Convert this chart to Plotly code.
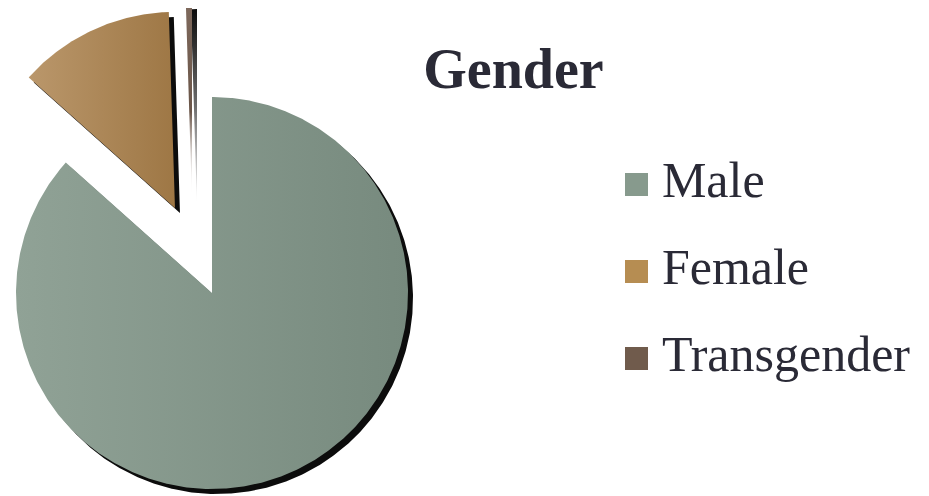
import numpy as np
import plotly.graph_objects as go

# ---------------- data ----------------
categories = ["Male", "Female", "Transgender"]
values = [86.6, 12.9, 0.5]
chart_title = "Gender"

# ---------------- style ----------------
FONT = "Liberation Serif, Times New Roman, serif"
TEXT_COLOR = "#2a2a36"
grad_light = ["#90a296", "#ba976b", "#7e695c"]
grad_dark = ["#778a7e", "#9e7745", "#6a5548"]
legend_colors = ["#879a8d", "#b68d52", "#705b4c"]
# exploded offsets of each slice's apex (in pie-radius units, y up)
explode = [(0.0, 0.0), (-0.189, 0.434), (-0.102, 0.474)]
W, H = 929, 496
PAGE_OFF = 8.0          # default page margin around the figure
R_PX = 196.0            # pie radius in pixels
CX, CY = 212.0 - PAGE_OFF, 293.0 - PAGE_OFF  # pie centre in figure pixels
SHADOW = (5 / R_PX, -5 / R_PX)

fig = go.Figure()

total = float(sum(values))
angles = np.cumsum([0.0] + [v / total * 360.0 for v in values])


def wedge(a0, a1, ox, oy):
    th = np.radians(np.linspace(a0, a1, max(8, int((a1 - a0) * 2) + 2)))
    xs = np.concatenate([[ox], ox + np.sin(th), [ox]])
    ys = np.concatenate([[oy], oy + np.cos(th), [oy]])
    return xs, ys


# shadows first
for i, cat in enumerate(categories):
    ox, oy = explode[i]
    xs, ys = wedge(angles[i], angles[i + 1], ox + SHADOW[0], oy + SHADOW[1])
    kw = dict(fillcolor="#0c0c0c")
    if cat == "Transgender":
        kw = dict(fillgradient=dict(type="vertical",
                                    colorscale=[[0, "rgba(12,12,12,0)"], [0.5, "rgba(12,12,12,0.6)"], [1, "rgba(12,12,12,1)"]]))
    fig.add_trace(go.Scatter(x=xs, y=ys, mode="lines", fill="toself",
                             line=dict(width=0), hoverinfo="skip",
                             showlegend=False, **kw))

# slices
for i, cat in enumerate(categories):
    ox, oy = explode[i]
    xs, ys = wedge(angles[i], angles[i + 1], ox, oy)
    if cat == "Transgender":
        fg = dict(type="vertical",
                  colorscale=[[0, "rgba(255,255,255,0)"], [0.45, grad_dark[i]], [1, grad_light[i]]])
    else:
        fg = dict(type="horizontal",
                  colorscale=[[0, grad_light[i]], [1, grad_dark[i]]])
    fig.add_trace(go.Scatter(x=xs, y=ys, mode="lines", fill="toself",
                             fillgradient=fg, line=dict(width=0),
                             name=cat, showlegend=False,
                             hovertemplate=f"{cat}: {values[i]}%<extra></extra>"))

# legend drawn as a marker/text column
fig.add_trace(go.Scatter(
    x=[0] * len(categories), y=categories, mode="markers+text",
    marker=dict(symbol="square", size=23, color=legend_colors, line=dict(width=0)),
    text=["\u2009" + c for c in categories], textposition="middle right",
    textfont=dict(family=FONT, size=50, color=TEXT_COLOR),
    cliponaxis=False,
    xaxis="x2", yaxis="y2", showlegend=False, hoverinfo="skip"))

row_h = 87.0
leg_top = 184.5 - PAGE_OFF - row_h / 2
leg_bot = leg_top + 3 * row_h

fig.update_layout(
    width=W, height=H,
    margin=dict(l=0, r=0, t=0, b=0),
    paper_bgcolor="white", plot_bgcolor="white",
    showlegend=False,
    xaxis=dict(range=[-CX / R_PX, (W - CX) / R_PX], domain=[0, 1],
               visible=False, fixedrange=True),
    yaxis=dict(range=[-(H - CY) / R_PX, CY / R_PX], domain=[0, 1],
               visible=False, fixedrange=True),
    xaxis2=dict(range=[0, 1], domain=[(636.5 - PAGE_OFF) / W, 1], anchor="y2",
                visible=False, fixedrange=True),
    yaxis2=dict(type="category", range=[2.5, -0.5],
                domain=[(H - leg_bot) / H, (H - leg_top) / H], anchor="x2",
                visible=False, fixedrange=True),
    title=dict(text="<b>" + chart_title + "</b>", x=(513.5 - PAGE_OFF) / W,
               xanchor="center", y=(H - (68 - PAGE_OFF)) / H, yanchor="middle",
               font=dict(family=FONT, size=56, color=TEXT_COLOR)),
)

fig.write_html("out.html")
